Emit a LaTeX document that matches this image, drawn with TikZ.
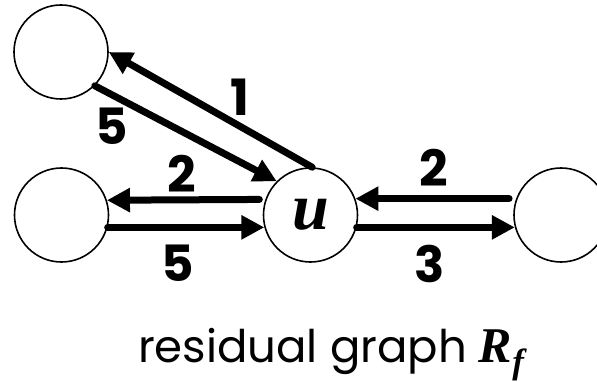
\documentclass[tikz,border=0pt]{standalone}
\usepackage{fontspec}
\setmainfont{Poppins}
\newfontfamily\mathlike{Liberation Serif}
\usetikzlibrary{arrows.meta}
\tikzset{
  vert/.style={circle,draw,line width=1.6pt,minimum size=94pt,inner sep=0pt},
  arr/.style={line width=7pt,line cap=round,-{Triangle[length=23pt,width=23pt]}},
  lab/.style={font=\fontsize{50}{50}\selectfont\bfseries,inner sep=0pt}
}
\begin{document}
\begin{tikzpicture}[x=1pt,y=-1pt]
\useasboundingbox (0,0) rectangle (597,382);
\node[vert] (T) at (61,52) {};
\node[vert] (L) at (61.5,215) {};
\node[vert] (U) at (310.5,215) {\fontsize{66}{66}\selectfont\mathlike\bfseries\itshape u};
\node[vert] (R) at (561,215) {};
\draw[arr] (U.88) -- (T.0);
\draw[arr] (T.-45) -- (U.135);
\draw[arr] ([xshift=-6pt]U.161) -- (L.18.6);
\draw[arr] (L.-15) -- (U.195);
\draw[arr] ([xshift=-7pt]R.160) -- (U.20);
\draw[arr] (U.-15) -- (R.195);
\node[lab] (l1) at (240,97) {1};
\node[lab] (l5a) at (112,126) {5};
\node[lab] (l2a) at (182,174) {2};
\node[lab] (l5b) at (178,263) {5};
\node[lab] (l2b) at (434,168) {2};
\node[lab] (l3) at (430,264) {3};
\node[anchor=base,inner sep=0pt,font=\fontsize{45}{45}\selectfont] (cap) at (331,362) {residual graph {\mathlike\bfseries\itshape\fontsize{50}{50}\selectfont R\raisebox{-0.22em}{\fontsize{35}{35}\selectfont f}}};
\end{tikzpicture}
\end{document}
